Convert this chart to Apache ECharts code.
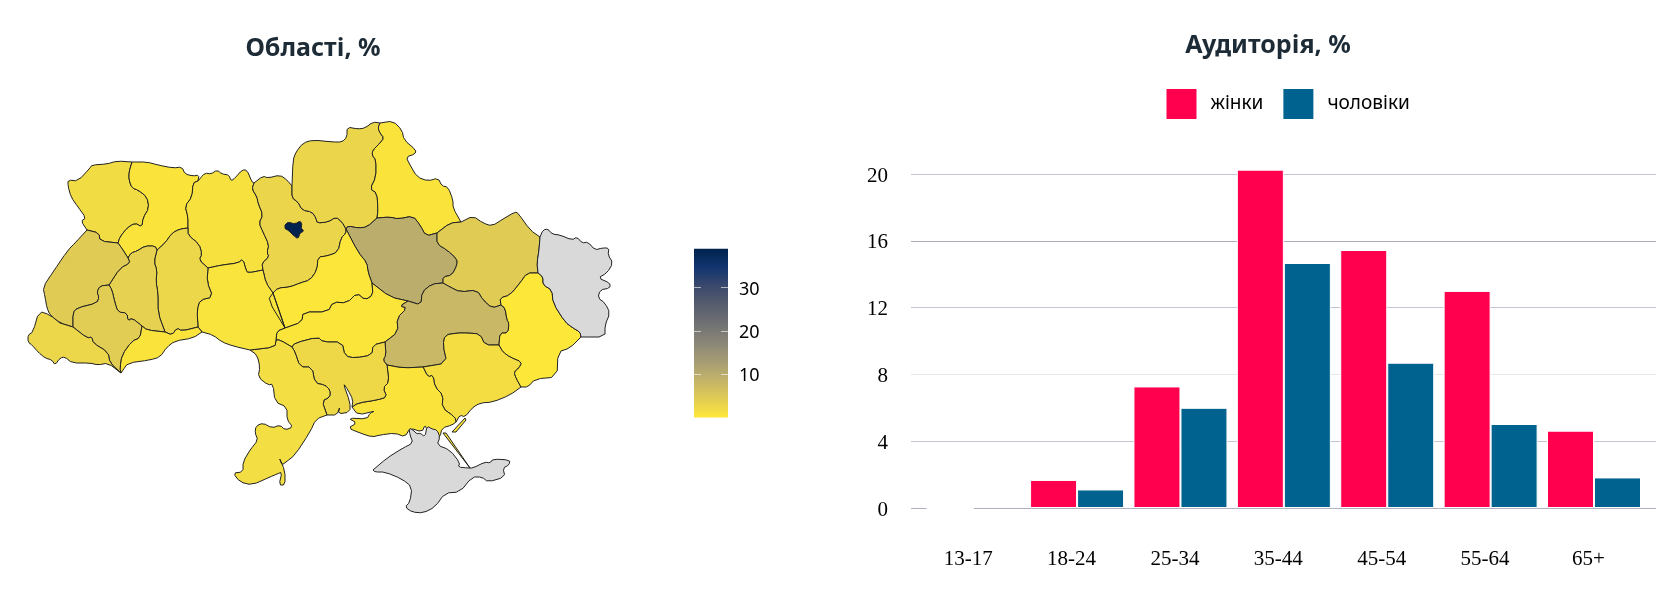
<!DOCTYPE html>
<html>
<head>
<meta charset="utf-8">
<style>html,body{margin:0;padding:0;background:#fff}#c{width:1675px;height:600px}</style>
<script src="https://cdn.jsdelivr.net/npm/echarts@6/dist/echarts.min.js"></script>
</head>
<body>
<div id="c"></div>
<script>
// ---- bar chart data ----
const ageGroups = ['13-17','18-24','25-34','35-44','45-54','55-64','65+'];
const women = [0,1.68,7.28,20.26,15.45,13.0,4.63];
const men = [null,1.11,6.0,14.67,8.7,5.03,1.83];

// ---- map data ----
const regionNames = ['Волинська','Рівненська','Житомирська','Київська','Чернігівська','Сумська','Полтавська','Черкаська','Кіровоградська','Харківська','Дніпропетровська','Запорізька','Донецька','Луганська','Херсонська','Миколаївська','Одеська','Вінницька','Хмельницька','Тернопільська','Львівська','Івано-Франківська','Закарпатська','Чернівецька','Крим','м. Київ'];
const regionValues = [2,0.8,1.2,3,3,0.8,10,0.5,0.7,4.6,8,1.9,0.4,null,0.8,2.6,1.8,1,2.8,3.8,4.6,4.3,2.8,0.8,null,38.9];
const colorStops = ['#fee838','#e1cc55','#c3b369','#a59c74','#8a8678','#707173','#575d6d','#3b496c','#123570','#00224e'];
const colorMin = 0.2, colorMax = 38.9;
const colorbarTicks = [10,20,30];

// ---- region outlines, traced in map units, as shared borders ----
const arcs = {
 volynOut:[[87,230],[81,221],[86,218],[78,207],[71,197],[68,186],[68,180],[78,181],[90,168],[92,165],[107,164],[117,161],[132,162]],
 volRiv:[[132,162],[129,172],[129,180],[132,188],[138,190],[147,197],[149,208],[143,218],[142,227],[135,223],[127,228],[120,237],[118,243]],
 volLviv:[[118,243],[100,241],[99,233],[87,230]],
 rivOut:[[132,162],[147,162],[158,165],[173,168],[182,167],[185,174],[193,176],[199,175],[198,181]],
 rivZhyt:[[198,181],[193,183],[192,197],[185,206],[188,217],[188,228]],
 rivKhm:[[188,228],[180,229],[172,233],[165,243],[157,250]],
 rivTer:[[157,250],[155,246],[145,246],[137,251],[131,253],[128,258]],
 rivLviv:[[128,258],[123,250],[118,243]],
 zhytOut:[[198,181],[203,175],[205,173],[211,174],[217,170],[222,174],[229,175],[231,181],[235,178],[242,170],[247,170],[252,182],[254,183]],
 zhytKyiv:[[254,183],[252,189],[257,197],[258,203],[263,215],[259,223],[263,232],[269,245],[267,252],[269,257],[262,263],[263,270]],
 zhytKhm:[[188,228],[188,235],[199,244],[202,254],[199,260],[208,268]],
 zhytVin:[[208,268],[222,265],[238,263],[243,259],[246,270],[248,273],[263,270]],
 kyivOut:[[254,183],[263,176],[268,178],[280,175],[287,180],[292,186]],
 kyivChern:[[292,186],[292,198],[298,202],[302,210],[312,212],[316,218],[317,223],[328,222],[336,217],[342,222],[346,229]],
 kyivCher:[[346,229],[346,233],[341,238],[338,252],[327,256],[318,257],[317,270],[310,280],[300,283],[290,287],[278,288],[273,293]],
 kyivVin:[[263,270],[266,283],[273,293]],
 chernOut:[[292,186],[293,160],[296,152],[303,143],[313,140],[333,142],[342,142],[347,137],[347,127],[358,129],[365,128],[373,122],[380,123]],
 chernSumy:[[380,123],[378,128],[380,133],[384,138],[380,143],[373,150],[372,155],[376,160],[376,177],[370,189],[377,193],[378,210],[377,218]],
 chernPol:[[377,218],[367,227],[358,228],[348,226],[346,229]],
 sumyOut:[[380,123],[393,121],[402,130],[404,140],[416,150],[415,154],[406,157],[410,165],[417,177],[428,181],[438,178],[442,186],[448,187],[453,200],[453,208],[461,222]],
 sumyKhar:[[461,222],[450,223],[437,233]],
 sumyPol:[[437,233],[426,236],[420,225],[413,216],[398,219],[390,217],[377,218]],
 polKhar:[[437,233],[437,244],[447,250],[457,259],[457,265],[452,275],[443,277],[443,283]],
 polDnipro:[[443,283],[432,284],[422,292],[421,305],[408,301]],
 polCher:[[346,229],[358,252],[367,263],[368,272],[372,283]],
 polKir:[[372,283],[390,297],[408,301]],
 cherKir:[[372,283],[373,295],[365,300],[357,293],[347,303],[333,302],[328,312],[303,312],[302,322],[285,328]],
 cherVin:[[273,293],[268,300],[285,328]],
 kirDnipro:[[408,301],[400,306],[407,308],[397,318],[398,332],[385,342]],
 kirMyk:[[385,342],[373,345],[372,355],[355,358],[345,356],[342,342],[323,342],[318,337],[295,343],[292,347]],
 kirOde:[[292,347],[280,340],[276,340]],
 kirVin:[[276,340],[277,331],[285,328]],
 vinOde:[[276,340],[275,347],[250,350]],
 vinCoast:[[250,350],[233,346],[222,342],[213,335],[202,332]],
 odeCoast:[[250,350],[257,355],[260,367],[258,377],[268,385],[273,384],[275,402],[287,407],[287,420],[293,427],[285,430],[280,425],[272,428],[263,423],[256,426],[255,433],[258,440],[250,450],[243,462],[243,472],[233,473],[240,482],[252,485],[270,477],[277,474],[282,472],[279,485],[285,485],[285,471],[279,457],[282,465],[286,462],[295,455],[310,432],[316,419],[327,415]],
 odeMyk:[[292,347],[295,352],[300,367],[312,367],[315,383],[325,385],[330,390],[330,397],[322,401],[327,415]],
 mykCoast:[[327,415],[337,415],[340,406],[338,414],[350,412],[350,402],[343,383],[348,390],[353,400],[352,407]],
 mykKher:[[352,407],[358,403],[377,400],[387,397],[383,388],[389,382],[387,365]],
 mykDnipro:[[385,342],[386,355],[383,360],[387,365]],
 kherDnipro:[[387,365],[403,368],[423,367]],
 kherZap:[[423,367],[428,377],[433,375],[435,387],[443,395],[442,408],[455,417],[456,422]],
 kherCoast:[[456,422],[452,425],[442,428],[440,437],[435,438],[436,432],[427,430],[425,425],[422,432],[410,428],[405,437],[395,433],[380,435],[372,437],[360,433],[348,428],[357,423],[348,418],[367,419],[370,413],[375,411],[358,415],[352,407]],
 zapDnipro:[[423,367],[447,363],[443,345],[445,335],[457,333],[468,333],[480,334],[485,345],[499,345]],
 zapDon:[[499,345],[503,352],[510,357],[522,362],[519,368],[514,372],[516,378],[521,387]],
 zapCoast:[[521,387],[510,395],[493,402],[480,403],[472,408],[465,417],[460,415],[456,422]],
 kharDnipro:[[443,283],[450,287],[460,292],[477,290],[483,300],[492,308],[501,305]],
 dniproDon:[[501,305],[505,308],[507,320],[509,323],[508,333],[500,333],[499,345]],
 kharOut:[[461,222],[473,216],[483,223],[492,226],[503,219],[515,212],[518,213],[530,230],[540,237]],
 kharLuh:[[540,237],[539,250],[537,263],[538,273]],
 kharDon:[[538,273],[527,273],[520,283],[510,295],[500,298],[501,305]],
 donLuh:[[538,273],[543,277],[543,285],[552,290],[553,303],[565,322],[573,328],[580,332],[581,337]],
 donOut:[[581,337],[570,348],[558,352],[557,377],[535,379],[528,387],[521,387]],
 luhOut:[[540,237],[543,230],[548,229],[552,234],[560,235],[572,240],[577,237],[582,243],[588,242],[595,250],[602,248],[609,248],[608,255],[613,263],[607,273],[598,278],[610,283],[610,288],[600,290],[598,298],[605,303],[610,313],[605,325],[605,337],[581,337]],
 lvivWest:[[87,230],[75,243],[68,250],[53,272],[43,287],[45,297],[47,308],[50,315],[60,323],[73,327]],
 lvivIf:[[73,327],[73,313],[77,308],[97,303],[99,297],[97,292],[100,286],[109,285]],
 lvivTer:[[109,285],[120,268],[130,263],[128,258]],
 terKhm:[[157,250],[154,262],[157,270],[156,282],[158,293],[158,313],[165,332]],
 terChv:[[165,332],[147,330],[142,326]],
 terIf:[[142,326],[132,318],[128,321],[127,313],[118,312],[115,303],[112,290],[109,285]],
 ifChv:[[142,326],[140,338],[132,341],[122,355],[120,368],[121,373]],
 ifZak:[[121,373],[110,363],[108,352],[93,343],[92,337],[87,338],[73,327]],
 zakOut:[[121,373],[108,363],[98,365],[90,363],[72,363],[65,357],[60,358],[55,365],[52,360],[45,358],[38,352],[32,345],[28,342],[28,335],[33,332],[39,311],[50,315],[60,323]],
 chvKhm:[[165,332],[172,335],[177,328],[182,331],[198,327]],
 chvVin:[[198,327],[202,332]],
 chvOut:[[202,332],[193,338],[175,341],[167,347],[160,357],[150,360],[128,363],[123,370],[121,373]],
 khmVin:[[208,268],[207,282],[213,297],[200,300],[197,310],[198,327]]
};
const islands = {
 'Херсонська':[[[465,418],[452,432],[456,432],[466,420],[465,418]],[[443,433],[446,433],[470,468],[469,468],[443,433]]],
 'Крим':[[[373,470],[387,458],[403,448],[413,443],[410,435],[409,428],[413,430],[417,434],[420,433],[425,437],[427,426],[432,429],[437,430],[440,437],[437,445],[450,450],[460,463],[458,467],[468,468],[473,468],[485,462],[490,463],[493,459],[510,460],[509,465],[503,468],[505,477],[488,482],[482,477],[472,477],[460,492],[445,493],[435,507],[423,513],[412,512],[405,507],[410,502],[412,487],[402,479],[385,472],[375,472],[373,470]]],
 'м. Київ':[[[285,225],[288,222],[295,224],[300,221],[302,224],[301,228],[304,231],[300,233],[298,239],[293,235],[288,230],[285,229],[285,225]]]
};
const regionBorders = {
 'Волинська':['volynOut','volRiv','volLviv'],
 'Рівненська':['rivOut','rivZhyt','rivKhm','rivTer','rivLviv','-volRiv'],
 'Житомирська':['zhytOut','zhytKyiv','-zhytVin','-zhytKhm','-rivZhyt'],
 'Київська':['kyivOut','kyivChern','kyivCher','-kyivVin','-zhytKyiv'],
 'Чернігівська':['chernOut','chernSumy','chernPol','-kyivChern'],
 'Сумська':['sumyOut','sumyKhar','sumyPol','-chernSumy'],
 'Полтавська':['-chernPol','-sumyPol','polKhar','polDnipro','-polKir','-polCher'],
 'Черкаська':['polCher','cherKir','-cherVin','-kyivCher'],
 'Кіровоградська':['polKir','kirDnipro','kirMyk','kirOde','kirVin','-cherKir'],
 'Харківська':['-sumyKhar','kharOut','kharLuh','kharDon','-kharDnipro','-polKhar'],
 'Дніпропетровська':['-polDnipro','kharDnipro','dniproDon','-zapDnipro','-kherDnipro','-mykDnipro','-kirDnipro'],
 'Запорізька':['zapDnipro','zapDon','zapCoast','-kherZap'],
 'Донецька':['-kharDon','donLuh','donOut','-zapDon','-dniproDon'],
 'Луганська':['luhOut','-donLuh','-kharLuh'],
 'Херсонська':['kherDnipro','kherZap','kherCoast','mykKher'],
 'Миколаївська':['-kirMyk','mykDnipro','-mykKher','-mykCoast','-odeMyk'],
 'Одеська':['-vinOde','-kirOde','odeMyk','-odeCoast'],
 'Вінницька':['zhytVin','kyivVin','-cherVin','-kirVin','vinOde','vinCoast','-chvVin','-khmVin'],
 'Хмельницька':['zhytKhm','khmVin','-chvKhm','-terKhm','-rivKhm'],
 'Тернопільська':['-rivTer','terKhm','terChv','terIf','lvivTer'],
 'Львівська':['volLviv','lvivWest','lvivIf','lvivTer','rivLviv'],
 'Івано-Франківська':['lvivIf','-terIf','ifChv','ifZak'],
 'Закарпатська':['-ifZak','zakOut'],
 'Чернівецька':['chvKhm','chvVin','chvOut','-ifChv','-terChv']
};
// rounds the traced corners of an outline; the two ends of a border stay put
function round(pts){
  const out=[pts[0]];
  for(let i=0;i<pts.length-1;i++){
    const a=pts[i],b=pts[i+1];
    if(i>0)out.push([a[0]*.75+b[0]*.25,a[1]*.75+b[1]*.25]);
    if(i<pts.length-2)out.push([a[0]*.25+b[0]*.75,a[1]*.25+b[1]*.75]);
  }
  out.push(pts[pts.length-1]);
  return out;
}
function ringOf(names){
  const out=[];
  names.forEach(n=>{
    const rev=n[0]==='-';
    const pts=round(arcs[rev?n.slice(1):n]);
    if(rev)pts.reverse();
    pts.forEach(p=>{const l=out[out.length-1];if(!l||l[0]!==p[0]||l[1]!==p[1])out.push(p);});
  });
  const a=out[0],b=out[out.length-1];
  if(a[0]!==b[0]||a[1]!==b[1])out.push(a);
  return out;
}
const features=regionNames.map(name=>{
  const polys=[];
  if(regionBorders[name])polys.push([ringOf(regionBorders[name])]);
  (islands[name]||[]).forEach(r=>polys.push([name==='Херсонська'?r:round(r)]));
  return {type:'Feature',properties:{name},geometry:{type:'MultiPolygon',coordinates:polys}};
});
echarts.registerMap('ua',{type:'FeatureCollection',features});
let minX=1e9,minY=1e9,maxX=-1e9,maxY=-1e9;
features.forEach(f=>f.geometry.coordinates.forEach(p=>p[0].forEach(([x,y])=>{
  minX=Math.min(minX,x);maxX=Math.max(maxX,x);minY=Math.min(minY,y);maxY=Math.max(maxY,y);
})));

const chart=echarts.init(document.getElementById('c'),null,{renderer:'canvas'});
const stops=colorStops.map((c,i)=>({offset:i/(colorStops.length-1),color:c}));
const sans='"Noto Sans", sans-serif';
const serif='"Liberation Serif", serif';
chart.setOption({
  animation:false,
  backgroundColor:'#fff',
  title:[
    {text:'Області, %',left:313,top:36,padding:0,textAlign:'center',textStyle:{fontFamily:sans,fontSize:25,fontWeight:'bold',color:'#1d2b36'}},
    {text:'Аудиторія, %',left:1268,top:33,padding:0,textAlign:'center',textStyle:{fontFamily:sans,fontSize:25,fontWeight:'bold',color:'#1d2b36'}}
  ],
  legend:{
    data:['жінки','чоловіки'],left:1166.5,top:89,padding:0,itemWidth:30,itemHeight:30,itemGap:20,icon:'rect',
    textStyle:{fontFamily:sans,fontSize:19,color:'#000',padding:[0,0,0,9]},
    itemStyle:{borderWidth:0}
  },
  visualMap:{type:'continuous',show:false,seriesIndex:0,min:colorMin,max:colorMax,inRange:{color:colorStops}},
  grid:[
    {left:911,width:745,top:174,height:334},
    {left:922,width:723.7,top:174,height:334},
    {left:694,width:34,top:248.7,height:168.9}
  ],
  xAxis:[
    {gridIndex:0,type:'category',show:false,data:ageGroups},
    {gridIndex:1,type:'category',data:ageGroups,axisLine:{show:false},axisTick:{show:false},
     axisLabel:{fontFamily:serif,fontSize:21,color:'#000',margin:41,padding:[0,11,0,0]}},
    {gridIndex:2,type:'category',show:false,data:['']}
  ],
  yAxis:[
    {gridIndex:0,type:'value',min:0,max:20,interval:4,axisLine:{show:false},axisTick:{show:false},
     axisLabel:{fontFamily:serif,fontSize:21,color:'#000',margin:23,verticalAlign:'bottom',padding:[0,0,-12.5,0]},
     splitLine:{show:true,lineStyle:{width:1,color:['#b3b0c4','#c5c3d4','#e6e6ec','#c5c3d4','#aeaabc','#c5c3d4']}}},
    {gridIndex:1,type:'value',min:0,max:20,interval:4,show:false,splitLine:{show:false}},
    {gridIndex:2,type:'value',position:'left',min:0,max:39,z:5,splitLine:{show:false},axisLine:{show:false},
     axisLabel:{show:false},axisTick:{show:true,inside:true,length:7,customValues:colorbarTicks,lineStyle:{color:'rgba(255,255,255,0.6)',width:1}}},
    {gridIndex:2,type:'value',position:'right',min:0,max:39,z:5,splitLine:{show:false},
     axisLine:{show:true,lineStyle:{color:'rgba(255,255,255,0.4)',width:1}},
     axisTick:{show:true,inside:true,length:7,customValues:colorbarTicks,lineStyle:{color:'rgba(255,255,255,0.6)',width:1}},
     axisLabel:{customValues:colorbarTicks,fontFamily:sans,fontSize:18,color:'#000',margin:11,verticalAlign:'bottom',padding:[0,0,-11,0]}}
  ],
  series:[
    {type:'map',map:'ua',projection:{project:p=>p,unproject:p=>p},showLegendSymbol:false,
     left:minX,top:minY,width:maxX-minX,height:maxY-minY,
     roam:false,silent:true,selectedMode:false,label:{show:false},emphasis:{disabled:true},
     itemStyle:{areaColor:'#d9d9d9',borderColor:'#222',borderWidth:1},
     data:regionNames.map((n,i)=>({name:n,value:regionValues[i]==null?NaN:regionValues[i]}))},
    {name:'жінки',type:'bar',xAxisIndex:1,yAxisIndex:1,barWidth:47,barGap:'0%',clip:false,
     data:women.map(v=>v===0?{value:v,itemStyle:{borderWidth:3}}:v),
     itemStyle:{color:'#ff004f',borderColor:'#fff',borderWidth:1}},
    {name:'чоловіки',type:'bar',xAxisIndex:1,yAxisIndex:1,data:men,barWidth:47,barGap:'0%',clip:false,
     itemStyle:{color:'#00628f',borderColor:'#fff',borderWidth:1}},
    {type:'bar',xAxisIndex:2,yAxisIndex:2,data:[39],barWidth:'100%',silent:true,
     itemStyle:{color:new echarts.graphic.LinearGradient(0,1,0,0,stops)}}
  ]
});
</script>
</body>
</html>
